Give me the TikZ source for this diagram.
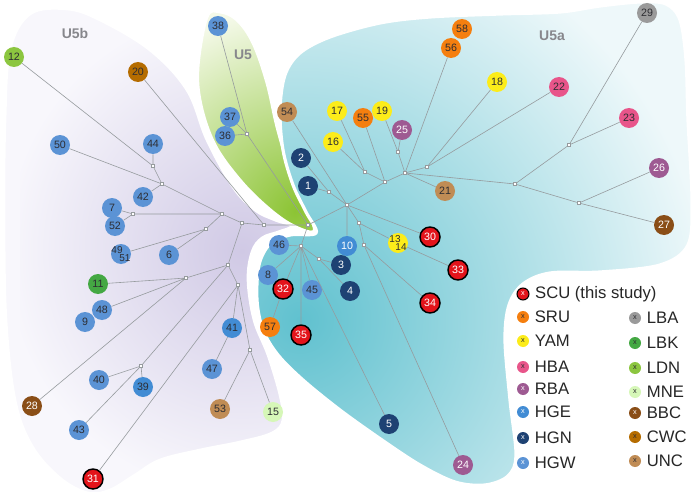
\documentclass[tikz,border=0pt]{standalone}
\usepackage{fontspec}
\setmainfont{Liberation Sans}
\usetikzlibrary{positioning}

\definecolor{hgwC}{RGB}{91,147,213}
\definecolor{hgeC}{RGB}{66,140,212}
\definecolor{hgnC}{RGB}{30,66,115}
\definecolor{scuC}{RGB}{227,20,27}
\definecolor{sruC}{RGB}{245,127,15}
\definecolor{yamC}{RGB}{252,236,26}
\definecolor{hbaC}{RGB}{232,85,138}
\definecolor{rbaC}{RGB}{158,90,146}
\definecolor{lbaC}{RGB}{154,154,154}
\definecolor{lbkC}{RGB}{68,168,67}
\definecolor{ldnC}{RGB}{140,198,64}
\definecolor{mneC}{RGB}{214,247,184}
\definecolor{bbcC}{RGB}{138,78,23}
\definecolor{cwcC}{RGB}{181,108,0}
\definecolor{uncC}{RGB}{192,140,85}
\definecolor{edgeC}{RGB}{150,155,158}
\definecolor{numdark}{RGB}{45,45,50}
\definecolor{regionC}{RGB}{135,135,140}
\definecolor{tealIn}{RGB}{96,193,207}
\definecolor{tealOut}{RGB}{238,248,250}
\definecolor{lavIn}{RGB}{208,201,229}
\definecolor{lavOut}{RGB}{248,247,252}
\definecolor{grnIn}{RGB}{140,196,52}
\definecolor{grnOut}{RGB}{244,249,232}

\tikzset{
  num/.style={circle, minimum size=15pt, inner sep=0pt, text=numdark, font=\fontsize{8}{9}\selectfont},
  numtxt/.style={inner sep=0pt, text=numdark, font=\fontsize{7.5}{8}\selectfont},
  hgw/.style={num, fill=hgwC},
  hge/.style={num, fill=hgeC},
  hgn/.style={num, fill=hgnC, text=white},
  scu/.style={num, fill=scuC, draw=black, line width=1.1pt, text=white},
  sru/.style={num, fill=sruC},
  yam/.style={num, fill=yamC},
  hba/.style={num, fill=hbaC},
  rba/.style={num, fill=rbaC, text=white},
  lba/.style={num, fill=lbaC},
  lbk/.style={num, fill=lbkC},
  ldn/.style={num, fill=ldnC},
  mne/.style={num, fill=mneC},
  bbc/.style={num, fill=bbcC, text=white},
  cwc/.style={num, fill=cwcC},
  unc/.style={num, fill=uncC},
  jn/.style={rectangle, draw=edgeC, fill=white, inner sep=0pt, minimum size=2.4pt, line width=0.3pt},
  edge/.style={draw=edgeC, line width=0.45pt},
  region/.style={text=regionC, font=\bfseries\fontsize{10.5}{12}\selectfont},
  lgdot/.style={circle, minimum size=9pt, inner sep=0pt, text=numdark, font=\fontsize{5.5}{6}\selectfont},
  lgtxt/.style={anchor=west, inner sep=0pt, text=black!85, font=\fontsize{12.5}{14}\selectfont}
}

\begin{document}
\begin{tikzpicture}[x=0.75pt,y=0.75pt,yscale=-1,xscale=1]
\useasboundingbox (0,0) rectangle (700,492);

%Shape: Blob U5b
\path[fill=lavOut, path picture={\shade[inner color=lavIn, outer color=lavOut] (20,10) rectangle (480,470);}, postaction={draw=white, line width=2pt}]
  plot[smooth cycle, tension=0.6] coordinates {(207,140) (233,187) (255,210) (275,220) (292,226) (278,232) (262,238) (252,252) (248,280) (254,320) (268,355) (280,395) (283,420) (272,433) (240,442) (200,450) (160,460) (135,475) (110,490) (88,493) (60,478) (32,446) (15,400) (6,320) (4,220) (5,120) (10,50) (30,14) (67,9) (100,20) (150,50) (187,90)};
%Shape: Blob U5
\path[fill=grnOut, path picture={\shade[inner color=grnIn, outer color=grnOut] (95,15) rectangle (495,415);}, postaction={draw=white, line width=2.2pt}]
  plot[smooth cycle, tension=0.6] coordinates {(207,17) (198,67) (201,105) (215,145) (240,180) (267,207) (292,225) (314,231) (305,205) (289,167) (277,127) (267,83) (253,43) (237,20) (220,12)};
%Shape: Blob U5a
\path[fill=tealOut, path picture={\shade[inner color=tealIn, outer color=tealOut] (-110,-90) rectangle (710,730);}, postaction={draw=white, line width=2.4pt}]
  plot[smooth cycle, tension=0.55] coordinates {(316,233) (290,235) (270,244) (259,265) (257,300) (263,330) (278,355) (303,380) (340,410) (382,440) (420,465) (455,482) (485,485) (508,476) (516,455) (510,400) (505,340) (509,305) (523,284) (550,273) (600,272) (660,265) (688,245) (692,200) (688,120) (686,60) (680,20) (666,4) (640,2) (600,6) (560,12) (500,14) (430,17) (380,23) (330,37) (300,53) (285,75) (280,110) (283,150) (293,185) (306,212)};

% Text Node
\node[region] (lu5b) at (75,33) {U5b};
% Text Node
\node[region] (lu5) at (243,55) {U5};
% Text Node
\node[region] (lu5a) at (552,36) {U5a};

%Junctions
\node[jn] (c0) at (308,225) {};
\node[jn] (u5j) at (247,134) {};
\node[jn] (b1) at (264,225) {};
\node[jn] (b2) at (242,223) {};
\node[jn] (b3) at (222,214) {};
\node[jn] (b4) at (133,214) {};
\node[jn] (b5) at (162,184) {};
\node[jn] (b6) at (153,166) {};
\node[jn] (b7) at (206,229) {};
\node[jn] (b8) at (228,265) {};
\node[jn] (b9) at (186,278) {};
\node[jn] (b10) at (141,366) {};
\node[jn] (b11) at (238,285) {};
\node[jn] (b12) at (250,350) {};
\node[jn] (a0) at (347,205) {};
\node[jn] (a1) at (329,192) {};
\node[jn] (a2) at (385,182) {};
\node[jn] (a3) at (365,172) {};
\node[jn] (a4) at (405,173) {};
\node[jn] (a5) at (398,152) {};
\node[jn] (a6) at (427,167) {};
\node[jn] (a7) at (515,184) {};
\node[jn] (a8) at (569,145) {};
\node[jn] (a9) at (579,203) {};
\node[jn] (a10) at (359,223) {};
\node[jn] (a11) at (364,245) {};
\node[jn] (d0) at (301,246) {};
\node[jn] (d1) at (319,259) {};

%Samples U5b
\node[ldn] (n12) at (14,57) {12};
\node[cwc] (n20) at (138,72) {20};
\node[hgw] (n50) at (60,145) {50};
\node[hgw] (n44) at (153,144) {44};
\node[hgw] (n42) at (143,197) {42};
\node[hgw] (n7) at (112,208) {7};
\node[hgw] (n52) at (115,226) {52};
\node[hgw] (n49) at (121,254) {};
\node[numtxt] (t49) at (117,250) {49};
\node[numtxt] (t51) at (125,258) {51};
\node[hgw] (n6) at (169,255) {6};
\node[lbk] (n11) at (98,284) {11};
\node[hgw] (n9) at (85,322) {9};
\node[hgw] (n48) at (102,310) {48};
\node[hge] (n41) at (232,328) {41};
\node[hgw] (n40) at (99,380) {40};
\node[hge] (n39) at (143,387) {39};
\node[hgw] (n47) at (212,369) {47};
\node[unc] (n53) at (220,409) {53};
\node[mne] (n15) at (273,412) {15};
\node[bbc] (n28) at (32,406) {28};
\node[hgw] (n43) at (79,430) {43};
\node[scu] (n31) at (93,479) {31};

%Samples U5
\node[hgw] (n38) at (218,26) {38};
\node[hgw] (n37) at (230,117) {37};
\node[hgw] (n36) at (225,136) {36};

%Samples U5a
\node[unc] (n54) at (287,112) {54};
\node[yam] (n17) at (337,111) {17};
\node[yam] (n16) at (333,142) {16};
\node[sru] (n55) at (363,118) {55};
\node[yam] (n19) at (382,111) {19};
\node[rba] (n25) at (402,130) {25};
\node[hgn] (n2) at (301,158) {2};
\node[hgn] (n1) at (308,186) {1};
\node[sru] (n58) at (462,29) {58};
\node[sru] (n56) at (451,48) {56};
\node[yam] (n18) at (497,82) {18};
\node[hba] (n22) at (559,87) {22};
\node[lba] (n29) at (647,13) {29};
\node[hba] (n23) at (629,118) {23};
\node[rba] (n26) at (659,168) {26};
\node[bbc] (n27) at (664,225) {27};
\node[unc] (n21) at (445,191) {21};
\node[scu] (n30) at (430,237) {30};
\node[hge, text=white] (n10) at (347,246) {10};
\node[yam] (n13) at (398,243) {};
\node[numtxt] (t13) at (395,239) {13};
\node[numtxt] (t14) at (401,247) {14};
\node[scu] (n33) at (458,270) {33};
\node[hgn] (n3) at (341,265) {3};
\node[hgn] (n4) at (350,291) {4};
\node[scu] (n34) at (430,303) {34};
\node[hgw] (n46) at (279,245) {46};
\node[hgw] (n8) at (268,275) {8};
\node[scu] (n32) at (283,289) {32};
\node[hgw] (n45) at (312,290) {45};
\node[sru] (n57) at (270,327) {57};
\node[scu] (n35) at (301,335) {35};
\node[hgn] (n5) at (389,424) {5};
\node[rba] (n24) at (463,465) {24};

%Straight Lines U5 and U5b
\draw[edge] (c0) -- (u5j) (u5j) -- (n38) (u5j) -- (n37) (u5j) -- (n36);
\draw[edge] (c0) -- (b1) (b1) -- (n20) (b1) -- (b2) (b2) -- (b3) (b2) -- (b8);
\draw[edge] (b3) -- (b4) (b4) -- (n7) (b4) -- (n52);
\draw[edge] (b3) -- (b5) (b5) -- (n42) (b5) -- (n50) (b5) -- (b6) (b6) -- (n44) (b6) -- (n12);
\draw[edge] (b3) -- (b7) (b7) -- (n49) (b7) -- (n6);
\draw[edge] (b8) -- (b9) (b9) -- (n11) (b9) -- (n48) (b9) -- (n28);
\draw[edge] (b8) -- (b10) (b10) -- (n40) (b10) -- (n39) (b10) -- (n43);
\draw[edge] (b8) -- (b11) (b11) -- (n41) (n41) -- (n47) (b11) -- (b12) (b12) -- (n53) (b12) -- (n15) (b11) -- (n31);
%Straight Lines U5a
\draw[edge] (c0) -- (a0) (a0) -- (a1) (a1) -- (n2) (a1) -- (n1) (a0) -- (n54);
\draw[edge] (a0) -- (a2) (a2) -- (n55) (a2) -- (a3) (a3) -- (n17) (a3) -- (n16) (a2) -- (a4);
\draw[edge] (a4) -- (a5) (a5) -- (n19) (a5) -- (n25) (a4) -- (n56) (a4) -- (n21);
\draw[edge] (a4) -- (a6) (a6) -- (n18) (a6) -- (n22);
\draw[edge] (a4) -- (a7) (a7) -- (a8) (a8) -- (n29) (a8) -- (n23) (a7) -- (a9) (a9) -- (n26) (a9) -- (n27);
\draw[edge] (a0) -- (n10) (a0) -- (n30) (a0) -- (a10) (a10) -- (n13) (n13) -- (n33);
\draw[edge] (a10) -- (a11) (a11) -- (n34) (a11) -- (n24);
\draw[edge] (c0) -- (d0) (d0) -- (n46) (d0) -- (n8) (d0) -- (n32) (n32) -- (n57) (d0) -- (n45) (d0) -- (n35) (d0) -- (n5);
\draw[edge] (d0) -- (d1) (d1) -- (n3) (d1) -- (n4);

%Legend
\node[lgdot, fill=scuC, draw=black, line width=0.8pt, text=white] (lscu) at (523,294) {x};
\node[lgtxt, right=4pt of lscu] (tscu) {SCU (this study)};
\node[lgdot, fill=sruC] (lsru) at (523,317) {x};
\node[lgtxt, right=4pt of lsru] (tsru) {SRU};
\node[lgdot, fill=yamC] (lyam) at (523,341) {x};
\node[lgtxt, right=4pt of lyam] (tyam) {YAM};
\node[lgdot, fill=hbaC] (lhba) at (523,367) {x};
\node[lgtxt, right=4pt of lhba] (thba) {HBA};
\node[lgdot, fill=rbaC, text=white] (lrba) at (523,389) {x};
\node[lgtxt, right=4pt of lrba] (trba) {RBA};
\node[lgdot, fill=hgeC, text=white] (lhge) at (523,412) {x};
\node[lgtxt, right=4pt of lhge] (thge) {HGE};
\node[lgdot, fill=hgnC, text=white] (lhgn) at (523,438) {x};
\node[lgtxt, right=4pt of lhgn] (thgn) {HGN};
\node[lgdot, fill=hgwC, text=white] (lhgw) at (523,463) {x};
\node[lgtxt, right=4pt of lhgw] (thgw) {HGW};
\node[lgdot, fill=lbaC] (llba) at (635,318) {x};
\node[lgtxt, right=4pt of llba] (tlba) {LBA};
\node[lgdot, fill=lbkC] (llbk) at (635,343) {x};
\node[lgtxt, right=4pt of llbk] (tlbk) {LBK};
\node[lgdot, fill=ldnC] (lldn) at (635,368) {x};
\node[lgtxt, right=4pt of lldn] (tldn) {LDN};
\node[lgdot, fill=mneC] (lmne) at (635,392) {x};
\node[lgtxt, right=4pt of lmne] (tmne) {MNE};
\node[lgdot, fill=bbcC, text=white] (lbbc) at (635,413) {x};
\node[lgtxt, right=4pt of lbbc] (tbbc) {BBC};
\node[lgdot, fill=cwcC] (lcwc) at (635,437) {x};
\node[lgtxt, right=4pt of lcwc] (tcwc) {CWC};
\node[lgdot, fill=uncC] (lunc) at (635,461) {x};
\node[lgtxt, right=4pt of lunc] (tunc) {UNC};

\end{tikzpicture}
\end{document}
